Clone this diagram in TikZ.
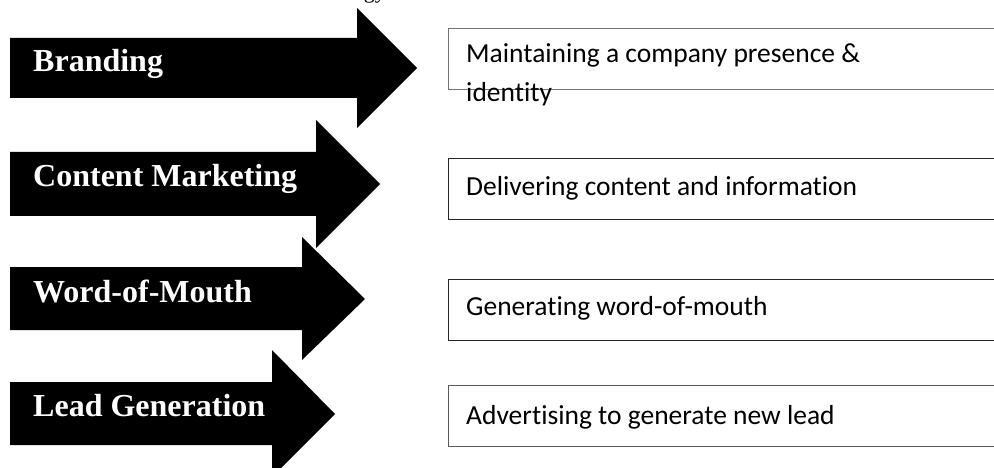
\documentclass[tikz,border=0pt]{standalone}
\usepackage{fontspec}
\setmainfont{Liberation Serif}
\newfontfamily\descfont[Ligatures=NoCommon]{Carlito}
\begin{document}
\begin{tikzpicture}[x=1pt,y=-1pt,
  blockarrow/.style={fill=black,draw=none},
  lbl/.style={text=white,inner sep=0pt,anchor=base west,
    font=\bfseries\fontsize{32}{38}\selectfont},
  descbox/.style={draw=black!85,line width=1.3pt,fill=none,inner sep=0pt,
    anchor=north west,minimum width=560pt,minimum height=61pt},
  desc/.style={inner sep=0pt,anchor=base west,
    font=\descfont\fontsize{27.5}{33}\selectfont},
  head/.style={inner sep=0pt,anchor=base east,font=\fontsize{22}{26}\selectfont}]
\useasboundingbox (0,0) rectangle (994,468);

% heading line running above the page edge
\node[head] (title) at (386,-1) {Strategy};

% block arrows: shaft from x=10, head at 45 degrees
\fill[blockarrow] (10,38) -- (357,38) -- (357,8) -- (417,68) -- (357,128) -- (357,98) -- (10,98) -- cycle;
\fill[blockarrow] (10,152) -- (316,152) -- (316,120) -- (380,184) -- (316,248) -- (316,216) -- (10,216) -- cycle;
\fill[blockarrow] (10,267) -- (302,267) -- (302,237) -- (365,299) -- (302,360) -- (302,330) -- (10,330) -- cycle;
\fill[blockarrow] (10,382) -- (272,382) -- (272,350) -- (335,414) -- (272,477) -- (272,445) -- (10,445) -- cycle;

\node[lbl] (branding) at (33,72) {Branding};
\node[lbl] (content) at (33,187) {Content Marketing};
\node[lbl] (wom) at (33,302) {Word-of-Mouth};
\node[lbl] (lead) at (33,416) {Lead Generation};

% description boxes, running past the right edge
\node[descbox,draw=black!55] (b1) at (448,28) {};
\node[descbox] (b2) at (448,158) {};
\node[descbox] (b3) at (448,279) {};
\node[descbox,draw=black!65] (b4) at (448,385) {};

\node[desc] (t1a) at (466,63) {Maintaining a company presence \&};
\node[desc] (t1b) at (466,102) {identity};
\node[desc] (t2) at (466,196) {Delivering content and information};
\node[desc] (t3) at (466,315) {Generating word-of-mouth};
\node[desc] (t4) at (466,424) {Advertising to generate new lead};
\end{tikzpicture}
\end{document}
